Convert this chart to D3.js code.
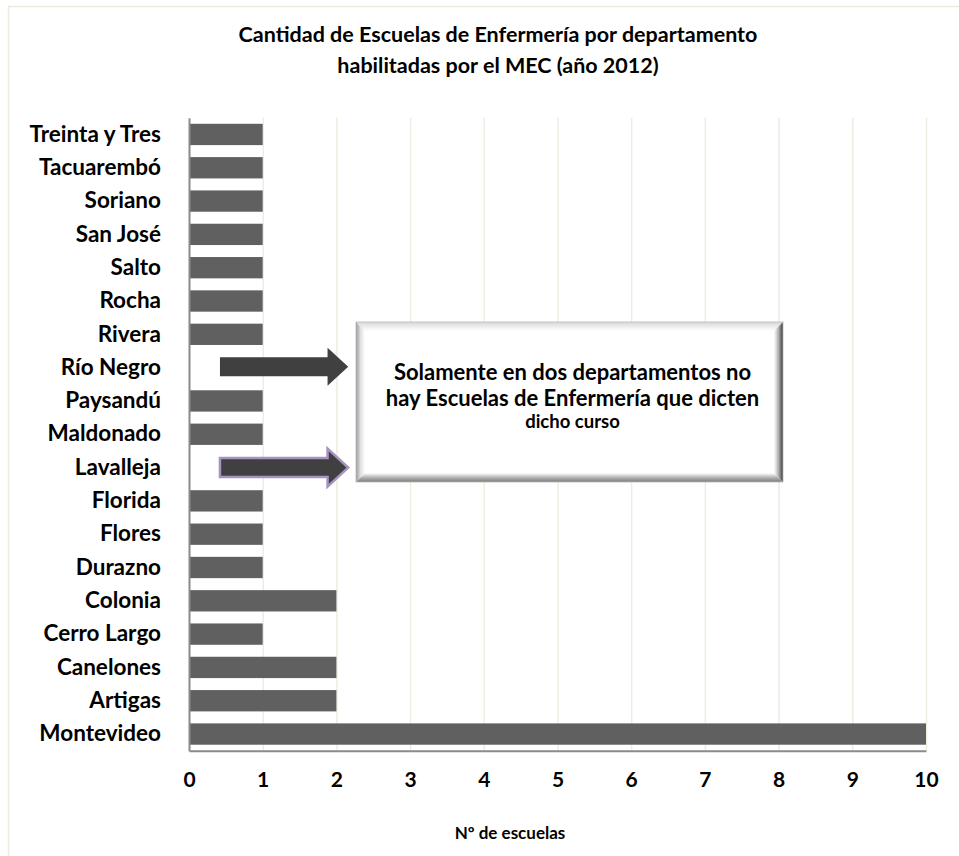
<!DOCTYPE html>
<html>
<head>
<meta charset="utf-8">
<script src="https://cdn.jsdelivr.net/npm/d3@7"></script>
<style>
  html, body { margin: 0; padding: 0; background: #ffffff; }
  svg { display: block; }
  text { font-family: Lato, "Open Sans", sans-serif; font-weight: bold; fill: #000; }
</style>
</head>
<body>
<svg id="chart" width="959" height="856"></svg>
<script>
// Departments (top to bottom) and number of nursing schools
const departments = ["Treinta y Tres", "Tacuarembó", "Soriano", "San José", "Salto", "Rocha",
  "Rivera", "Río Negro", "Paysandú", "Maldonado", "Lavalleja", "Florida", "Flores",
  "Durazno", "Colonia", "Cerro Largo", "Canelones", "Artigas", "Montevideo"];
const schools = [1, 1, 1, 1, 1, 1, 1, 0, 1, 1, 0, 1, 1, 1, 2, 1, 2, 2, 10];
const xTicks = [0, 1, 2, 3, 4, 5, 6, 7, 8, 9, 10];
const titleLines = ["Cantidad de Escuelas de Enfermería por departamento",
  "habilitadas por el MEC (año 2012)"];
const noteLines = ["Solamente en dos departamentos no", "hay Escuelas de Enfermería que dicten", "dicho curso"];
const xTitle = "Nº de escuelas";

const svg = d3.select("#chart");

// outer chart frame
svg.append("rect").attr("x", 8.5).attr("y", 6.5).attr("width", 980).attr("height", 900)
  .attr("fill", "#fff").attr("stroke", "#ecebdf").attr("stroke-width", 1.5);

const plot = { left: 189, right: 926, top: 117.8, bottom: 750.7 };

const x = d3.scaleLinear().domain([0, 10]).range([plot.left, plot.right]);
const y = d3.scaleBand().domain(departments).range([plot.top, plot.bottom]).paddingInner(0.36).paddingOuter(0.18);

// title
svg.append("g").selectAll("text").data(titleLines).join("text")
  .attr("x", 498).attr("y", (d, i) => 42 + i * 31)
  .attr("text-anchor", "middle").style("font-size", "21.5px").text(d => d);

// vertical gridlines
svg.append("g").selectAll("line").data(xTicks.slice(1)).join("line")
  .attr("x1", d => x(d) + 0.5).attr("x2", d => x(d) + 0.5)
  .attr("y1", plot.top).attr("y2", plot.bottom)
  .attr("stroke", "#efede0").attr("stroke-width", 1.5);

// bars
svg.append("g").selectAll("rect").data(departments).join("rect")
  .attr("x", x(0)).attr("y", d => y(d))
  .attr("width", (d, i) => x(schools[i]) - x(0))
  .attr("height", y.bandwidth())
  .attr("fill", "#606060");

// axes
const xAxis = d3.axisBottom(x).tickValues(xTicks).tickSize(0).tickPadding(21).tickFormat(d3.format("d"));
const gx = svg.append("g").attr("transform", `translate(0,${plot.bottom})`).call(xAxis);
gx.select(".domain").attr("stroke", "#8a8a8a").attr("stroke-width", 2);
gx.selectAll("text").style("font-size", "21px").style("font-family", "Lato, sans-serif").style("font-weight", "bold").attr("fill", "#000");

const yAxis = d3.axisLeft(y).tickSize(0).tickPadding(28);
const gy = svg.append("g").attr("transform", `translate(${plot.left},0)`).call(yAxis);
gy.select(".domain").attr("stroke", "#8a8a8a").attr("stroke-width", 2);
gy.selectAll("text").style("font-size", "22.5px").style("font-family", "Lato, sans-serif").style("font-weight", "bold").attr("fill", "#000");

// x-axis title
svg.append("text").attr("x", 510).attr("y", 839).attr("text-anchor", "middle")
  .style("font-size", "17px").text(xTitle);

// arrows pointing from the empty rows to the note
const arrowRows = departments.filter((d, i) => schools[i] === 0);
const arrowStyles = [{ stroke: "none", sw: 0 }, { stroke: "#a793c1", sw: 2.5 }];
const arrowStart = x(0.42), arrowHeadStart = x(1.88), arrowTip = x(2.16);
arrowRows.forEach((d, i) => {
  const cy = y(d) + y.bandwidth() / 2 + (i === 0 ? -1 : 0);
  const sh = 9.5, hh = 19;
  const pts = [[arrowStart, cy - sh], [arrowHeadStart, cy - sh], [arrowHeadStart, cy - hh],
    [arrowTip, cy], [arrowHeadStart, cy + hh], [arrowHeadStart, cy + sh], [arrowStart, cy + sh]];
  svg.append("polygon").attr("points", pts.map(p => p.join(",")).join(" "))
    .attr("fill", "#404040").attr("stroke", arrowStyles[i].stroke).attr("stroke-width", arrowStyles[i].sw)
    .attr("stroke-linejoin", "miter");
});

// bevelled note box
const box = { x: 356, y: 322, w: 427, h: 160, b: 9 };
const defs = svg.append("defs");
function grad(id, x1, y1, x2, y2, stops) {
  const g = defs.append("linearGradient").attr("id", id)
    .attr("x1", x1).attr("y1", y1).attr("x2", x2).attr("y2", y2);
  stops.forEach(s => g.append("stop").attr("offset", s[0]).attr("stop-color", s[1]));
}
grad("bvTop", 0, 0, 0, 1, [[0, "#d8d8d8"], [1, "#ffffff"]]);
grad("bvLeft", 0, 0, 1, 0, [[0, "#9a9a9a"], [0.5, "#e0e0e0"], [1, "#ffffff"]]);
grad("bvRight", 0, 0, 1, 0, [[0, "#ffffff"], [0.5, "#b0b0b0"], [1, "#3a3a3a"]]);
grad("bvBottom", 0, 0, 0, 1, [[0, "#ffffff"], [0.5, "#b4b4b4"], [1, "#7a7a7a"]]);
const bx = box.x, by = box.y, bw = box.w, bh = box.h, b = box.b;
svg.append("rect").attr("x", bx).attr("y", by).attr("width", bw).attr("height", bh).attr("fill", "#fff");
svg.append("polygon").attr("fill", "url(#bvTop)")
  .attr("points", [[bx, by], [bx + bw, by], [bx + bw - b, by + b], [bx + b, by + b]].join(" "));
svg.append("polygon").attr("fill", "url(#bvLeft)")
  .attr("points", [[bx, by], [bx + b, by + b], [bx + b, by + bh - b], [bx, by + bh]].join(" "));
svg.append("polygon").attr("fill", "url(#bvBottom)")
  .attr("points", [[bx, by + bh], [bx + b, by + bh - b], [bx + bw - b, by + bh - b], [bx + bw, by + bh]].join(" "));
svg.append("polygon").attr("fill", "url(#bvRight)")
  .attr("points", [[bx + bw, by], [bx + bw, by + bh], [bx + bw - b, by + bh - b], [bx + bw - b, by + b]].join(" "));
svg.append("rect").attr("x", bx).attr("y", by).attr("width", bw).attr("height", bh)
  .attr("fill", "none").attr("stroke", "#b8b8b8").attr("stroke-width", 0.8);

svg.append("g").selectAll("text").data(noteLines).join("text")
  .attr("x", bx + bw / 2 + 3)
  .attr("y", (d, i) => [380, 406, 428][i])
  .attr("text-anchor", "middle")
  .style("font-size", (d, i) => i === 2 ? "18.5px" : "22px")
  .text(d => d);
</script>
</body>
</html>
